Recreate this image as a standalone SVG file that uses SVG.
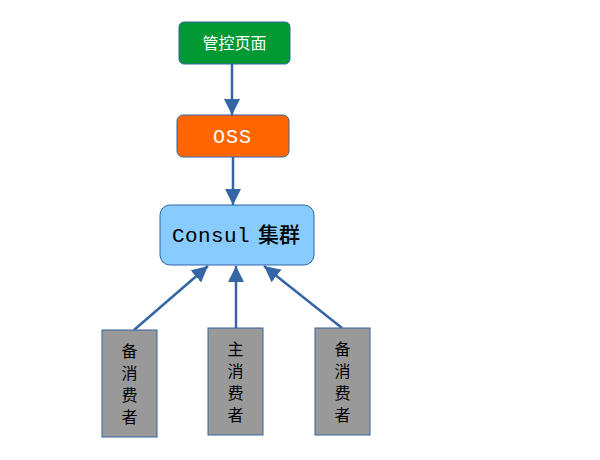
<svg xmlns="http://www.w3.org/2000/svg" width="600" height="460" viewBox="0 0 600 460">
<defs>
<marker id="a" viewBox="0 0 16 16" refX="16" refY="8" markerWidth="16" markerHeight="16" markerUnits="userSpaceOnUse" orient="auto">
<path d="M0,0 L16,8 L0,16 Z" fill="#3465a4"/>
</marker>
<style>
.box{stroke:#3465a4;stroke-width:1}
.cn{fill:none;stroke:#3465a4;stroke-width:2.5}
.t{font-family:"Noto Sans CJK SC","Liberation Sans",sans-serif;font-size:16px;text-anchor:middle}
</style>
</defs>
<rect width="600" height="460" fill="#ffffff"/>
<g id="connectors">
<line class="cn" x1="232" y1="64" x2="232" y2="115" marker-end="url(#a)"/>
<line class="cn" x1="233" y1="157" x2="233" y2="205" marker-end="url(#a)"/>
<line class="cn" x1="134" y1="330" x2="208" y2="266" marker-end="url(#a)"/>
<line class="cn" x1="236" y1="328" x2="236" y2="266" marker-end="url(#a)"/>
<line class="cn" x1="342" y1="328" x2="264" y2="266" marker-end="url(#a)"/>
</g>
<g id="n1">
<rect class="box" x="179" y="22" width="111" height="42" rx="5" fill="#009933"/>
<text class="t" x="234.5" y="48.5" fill="#ffffff">管控页面</text>
</g>
<g id="n2">
<rect class="box" x="177" y="115" width="112" height="42" rx="6" fill="#ff6600"/>
<text x="213" y="143" font-family="Liberation Mono, monospace" font-size="20" letter-spacing="1" fill="#ffffff">OSS</text>
</g>
<g id="n3">
<rect class="box" x="160" y="205" width="154" height="60" rx="10" fill="#88ccff"/>
<text x="172" y="242" fill="#000000"><tspan font-family="Liberation Mono, monospace" font-size="21" letter-spacing="0.4">Consul</tspan><tspan x="258" font-family="Noto Sans CJK SC, sans-serif" font-size="21" font-weight="500">集群</tspan></text>
</g>
<g id="c1">
<rect class="box" x="102" y="330" width="55" height="107" fill="#999999"/>
<text class="t" fill="#000000"><tspan x="129.5" y="357">备</tspan><tspan x="129.5" y="379">消</tspan><tspan x="129.5" y="401">费</tspan><tspan x="129.5" y="423">者</tspan></text>
</g>
<g id="c2">
<rect class="box" x="208" y="328" width="55" height="107" fill="#999999"/>
<text class="t" fill="#000000"><tspan x="235.5" y="355">主</tspan><tspan x="235.5" y="377">消</tspan><tspan x="235.5" y="399">费</tspan><tspan x="235.5" y="421">者</tspan></text>
</g>
<g id="c3">
<rect class="box" x="315" y="328" width="55" height="107" fill="#999999"/>
<text class="t" fill="#000000"><tspan x="342.5" y="355">备</tspan><tspan x="342.5" y="377">消</tspan><tspan x="342.5" y="399">费</tspan><tspan x="342.5" y="421">者</tspan></text>
</g>
</svg>
